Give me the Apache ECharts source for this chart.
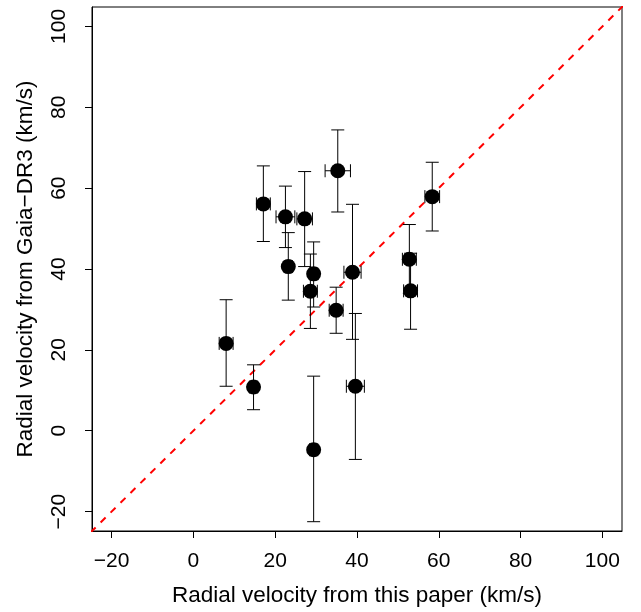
<!DOCTYPE html>
<html>
<head>
<meta charset="utf-8">
<script src="https://cdn.jsdelivr.net/npm/echarts@6/dist/echarts.min.js"></script>
<style>
html,body{margin:0;padding:0;background:#fff;}
#chart{width:641px;height:612px;}
</style>
</head>
<body>
<div id="chart"></div>
<script>
// Radial velocity from this paper (x) and Gaia-DR3 (y), km/s
var rvPaper   = [8.0, 14.7, 29.4, 39.6, 34.9, 28.6, 29.4, 23.2, 17.1, 22.5, 27.2, 35.3, 38.9, 58.4, 52.8, 53.1];
var rvPaperErr= [1.7, 1.0, 1.0, 2.2, 1.7, 1.7, 1.0, 1.0, 1.7, 2.3, 1.9, 3.1, 2.1, 1.8, 1.7, 1.7];
var rvGaia    = [21.6, 10.8, -4.7, 11.0, 29.8, 34.5, 38.8, 40.6, 56.1, 52.9, 52.4, 64.3, 39.2, 57.9, 42.4, 34.6];
var rvGaiaLow = [11.0, 5.2, -22.5, -7.1, 24.1, 25.3, 30.6, 32.3, 46.8, 45.3, 40.6, 54.1, 22.6, 49.4, 34.0, 25.1];
var rvGaiaHigh= [32.4, 16.3, 13.5, 29.0, 35.5, 43.7, 46.7, 49.0, 65.5, 60.5, 64.1, 74.4, 56.0, 66.4, 51.0, 43.9];
var tickValues = [-20, 0, 20, 40, 60, 80, 100];
var oneToOne = [[-30, -30], [110, 110]];
var xTitle = 'Radial velocity from this paper (km/s)';
var yTitle = 'Radial velocity from Gaia\u2212DR3 (km/s)';

var points = rvPaper.map(function (x, i) { return [x, rvGaia[i]]; });
var errData = rvPaper.map(function (x, i) {
  return [x, rvGaia[i], x - rvPaperErr[i], x + rvPaperErr[i], rvGaiaLow[i], rvGaiaHigh[i]];
});

var font = '"Liberation Sans", Arial, Helvetica, sans-serif';
function fmt(v) { return String(v).replace('-', '\u2212'); }

var chart = echarts.init(document.getElementById('chart'), null, {renderer: 'canvas'});
var CAP = 6.5;
chart.setOption({
  animation: false,
  backgroundColor: '#fff',
  grid: {left: 92, right: 19, top: 7, bottom: 75, show: true, borderColor: '#000', borderWidth: 1, backgroundColor: 'transparent'},
  xAxis: {
    type: 'value', min: -24.8, max: 104.8,
    name: xTitle, nameLocation: 'middle', nameGap: 53,
    nameTextStyle: {fontFamily: font, fontSize: 22.5, color: '#000'},
    axisLine: {show: true, onZero: false, lineStyle: {color: '#000'}},
    axisTick: {show: true, length: 7, lineStyle: {color: '#000'}, customValues: tickValues},
    axisLabel: {fontFamily: font, fontSize: 21, color: '#000', margin: 20, customValues: tickValues, formatter: fmt},
    splitLine: {show: false}
  },
  yAxis: {
    type: 'value', min: -24.8, max: 104.8,
    name: yTitle, nameLocation: 'middle', nameGap: 55,
    nameTextStyle: {fontFamily: font, fontSize: 22.5, color: '#000'},
    axisLine: {show: true, onZero: false, lineStyle: {color: '#000'}},
    axisTick: {show: true, length: 7, lineStyle: {color: '#000'}, customValues: tickValues},
    axisLabel: {fontFamily: font, fontSize: 21, color: '#000', margin: 22, rotate: 90, customValues: tickValues, formatter: fmt},
    splitLine: {show: false}
  },
  series: [
    {
      type: 'line', data: oneToOne, showSymbol: false, silent: true, z: 1,
      lineStyle: {color: '#ff0000', width: 2, type: [7, 7]}
    },
    {
      type: 'custom', data: errData, z: 2, silent: true,
      renderItem: function (params, api) {
        var c = api.coord([api.value(0), api.value(1)]);
        var xl = api.coord([api.value(2), api.value(1)]);
        var xh = api.coord([api.value(3), api.value(1)]);
        var yl = api.coord([api.value(0), api.value(4)]);
        var yh = api.coord([api.value(0), api.value(5)]);
        var st = {stroke: '#000', lineWidth: 1};
        return {
          type: 'group',
          children: [
            {type: 'line', shape: {x1: c[0], y1: yl[1], x2: c[0], y2: yh[1]}, style: st},
            {type: 'line', shape: {x1: c[0] - CAP, y1: yl[1], x2: c[0] + CAP, y2: yl[1]}, style: st},
            {type: 'line', shape: {x1: c[0] - CAP, y1: yh[1], x2: c[0] + CAP, y2: yh[1]}, style: st},
            {type: 'line', shape: {x1: xl[0], y1: c[1], x2: xh[0], y2: c[1]}, style: st},
            {type: 'line', shape: {x1: xl[0], y1: c[1] - CAP, x2: xl[0], y2: c[1] + CAP}, style: st},
            {type: 'line', shape: {x1: xh[0], y1: c[1] - CAP, x2: xh[0], y2: c[1] + CAP}, style: st}
          ]
        };
      }
    },
    {
      type: 'scatter', data: points, z: 3, symbol: 'circle', symbolSize: 15,
      itemStyle: {color: '#000', opacity: 1}
    }
  ]
});
</script>
</body>
</html>
